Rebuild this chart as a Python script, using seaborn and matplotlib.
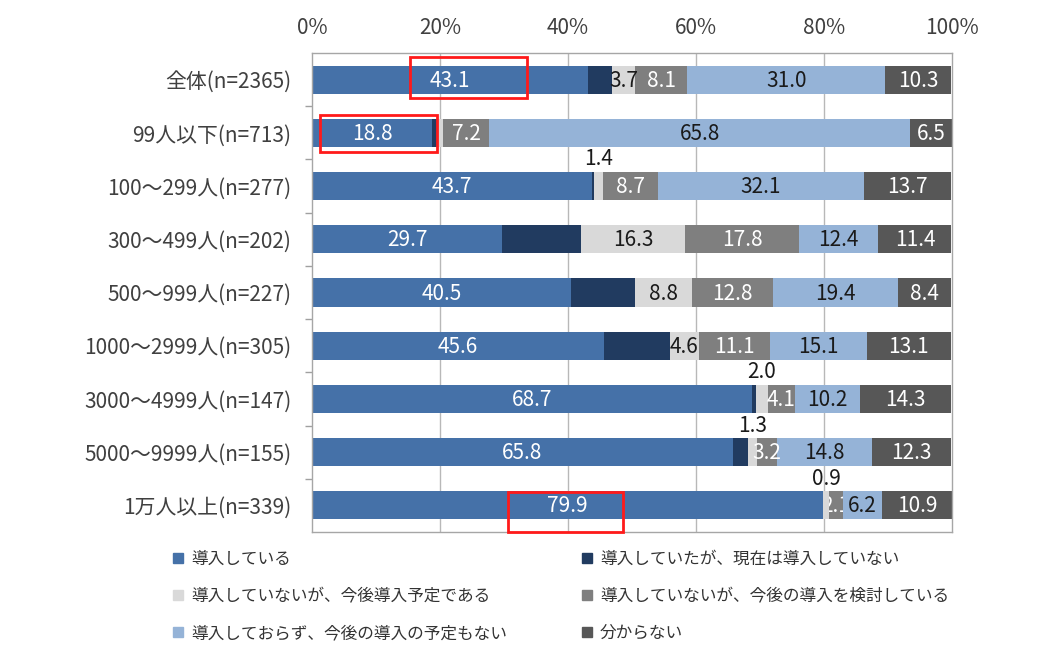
import matplotlib
matplotlib.use("Agg")
import matplotlib.pyplot as plt
import seaborn as sns
import pandas as pd
import numpy as np
from matplotlib.patches import Rectangle
from matplotlib.lines import Line2D

# ---------------- data ----------------
categories = ["全体(n=2365)", "99人以下(n=713)", "100～299人(n=277)", "300～499人(n=202)",
              "500～999人(n=227)", "1000～2999人(n=305)", "3000～4999人(n=147)",
              "5000～9999人(n=155)", "1万人以上(n=339)"]
series_names = ["導入している", "導入していたが、現在は導入していない",
                "導入していないが、今後導入予定である", "導入していないが、今後の導入を検討している",
                "導入しておらず、今後の導入の予定もない", "分からない"]
adopted = [43.1, 18.8, 43.7, 29.7, 40.5, 45.6, 68.7, 65.8, 79.9]
discontinued = [3.7, 0.8, 0.3, 12.3, 10.0, 10.3, 0.6, 2.4, 0.0]
planned = [3.7, 0.9, 1.4, 16.3, 8.8, 4.6, 2.0, 1.3, 0.9]
considering = [8.1, 7.2, 8.7, 17.8, 12.8, 11.1, 4.1, 3.2, 2.1]
no_plan = [31.0, 65.8, 32.1, 12.4, 19.4, 15.1, 10.2, 14.8, 6.2]
unknown = [10.3, 6.5, 13.7, 11.4, 8.4, 13.1, 14.3, 12.3, 10.9]
x_ticks = [0, 20, 40, 60, 80, 100]
x_tick_labels = ["0%", "20%", "40%", "60%", "80%", "100%"]

colors = ["#4571a8", "#213b60", "#d9d9d9", "#7f7f7f", "#95b3d7", "#575757"]
label_colors = ["white", None, "#1a1a1a", "white", "#1a1a1a", "white"]

values = [adopted, discontinued, planned, considering, no_plan, unknown]
df = pd.DataFrame({"category": categories})
for i, v in enumerate(values):
    df[f"s{i}"] = v
cum = np.cumsum(np.array(values), axis=0)
for i in range(len(values)):
    df[f"c{i}"] = cum[i]

# ---------------- style ----------------
sns.set_theme(style="white")
plt.rcParams["font.family"] = ["Noto Sans CJK JP", "DejaVu Sans"]
text_col = "#404040"

W, H = 1048, 665
fig = plt.figure(figsize=(W / 100, H / 100), dpi=100)
ax = fig.add_axes([312 / W, 1 - 532 / H, 640 / W, 479 / H])

bar_w = 0.53
for i in reversed(range(len(values))):
    sns.barplot(data=df, x=f"c{i}", y="category", color=colors[i], saturation=1,
                width=bar_w, orient="h", ax=ax, edgecolor="none", linewidth=0, errorbar=None)

ax.set_xlim(0, 100)
ax.set_ylim(8.5, -0.5)
ax.set_xlabel("")
ax.set_ylabel("")
ax.xaxis.tick_top()
ax.set_xticks(x_ticks)
ax.set_xticklabels(x_tick_labels, fontsize=15, color=text_col)
ax.tick_params(axis="x", length=0, pad=10)
ax.set_yticks(range(len(categories)))
ax.set_yticklabels(categories, fontsize=15, color=text_col)
ax.tick_params(axis="y", which="major", length=0, pad=15)
ax.set_yticks(np.arange(0.5, 8.5, 1.0), minor=True)
ax.tick_params(axis="y", which="minor", length=5, color="#a0a0a0", width=1, left=True)
for x in x_ticks[1:-1]:
    ax.axvline(x, color="#b8b8b8", lw=1, zorder=0.5)
ax.set_axisbelow(True)
for s in ax.spines.values():
    s.set_visible(True)
    s.set_color("#a6a6a6")
    s.set_linewidth(1)

# ---------------- value labels ----------------
for i, v in enumerate(values):
    if label_colors[i] is None:
        continue
    for r, val in enumerate(v):
        if i == 2 and r == 1:
            continue
        start = cum[i][r] - val
        xc = start + val / 2
        if i == 2 and val <= 2.0:
            ax.text(xc, r - 0.5, f"{val:.1f}", ha="center", va="center",
                    fontsize=15, color="#1a1a1a")
            continue
        if val < 2.5:
            t = ax.text(xc, r + 0.02, f"{val:.1f}", ha="center", va="center",
                        fontsize=15, color=label_colors[i], clip_on=True)
            clip = Rectangle((start, r - bar_w / 2), val, bar_w, transform=ax.transData)
            t.set_clip_path(clip)
        else:
            ax.text(xc, r + 0.02, f"{val:.1f}", ha="center", va="center",
                    fontsize=15, color=label_colors[i])

# ---------------- highlight boxes ----------------
highlight_rows = [0, 1, 8]
highlight_x = [(15.3, 33.6), (1.3, 19.5), (30.6, 48.6)]
highlight_y = [(-0.42, 0.35), (-0.34, 0.36), (-0.25, 0.5)]
for r, (x0, x1), (y0, y1) in zip(highlight_rows, highlight_x, highlight_y):
    ax.add_patch(Rectangle((x0, r + y0), x1 - x0, y1 - y0, fill=False,
                           edgecolor="#ff1a1a", lw=2, zorder=5, clip_on=False))

# ---------------- legend ----------------
handles = [Line2D([], [], marker="s", linestyle="none", markersize=6.5,
                  markerfacecolor=c, markeredgecolor=c) for c in colors]
leg_kw = dict(frameon=False, fontsize=12, handlelength=0.8, handletextpad=0.4,
              labelspacing=1.2, borderpad=0, borderaxespad=0, loc="upper left",
              bbox_transform=fig.transFigure, labelcolor="#333333")
leg1 = ax.legend([handles[0], handles[2], handles[4]],
                 [series_names[0], series_names[2], series_names[4]],
                 bbox_to_anchor=(171 / W, 1 - 551 / H), **leg_kw)
ax.add_artist(leg1)
ax.legend([handles[1], handles[3], handles[5]],
          [series_names[1], series_names[3], series_names[5]],
          bbox_to_anchor=(580 / W, 1 - 551 / H), **leg_kw)

fig.savefig("out.png", dpi=100, facecolor="white")
